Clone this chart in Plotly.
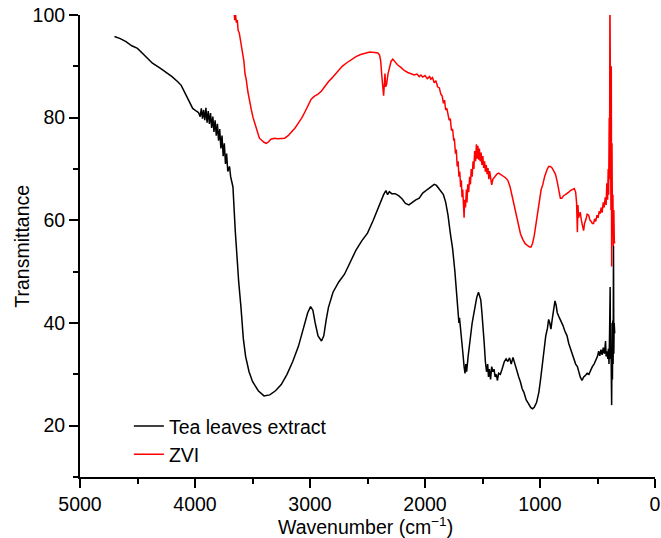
import plotly.graph_objects as go

# Tea leaves extract (black)
tea_x = [4700, 4650, 4600, 4550, 4500, 4470, 4430, 4400, 4370, 4300, 4250, 4200, 4150, 4120, 4080, 4050, 4020, 3990, 3970,
         3955, 3945, 3935, 3925, 3915, 3905, 3895, 3885, 3875, 3865, 3855, 3845, 3835, 3825, 3815, 3805, 3795, 3785, 3775,
         3765, 3755, 3745, 3735, 3725, 3715, 3700, 3690, 3670, 3650, 3640, 3620, 3600, 3580, 3560, 3530, 3500, 3450, 3400,
         3350, 3300, 3250, 3200, 3150, 3100, 3060, 3020, 2995, 2975, 2955, 2930, 2900, 2880, 2860, 2840, 2800, 2750, 2700,
         2650, 2600, 2550, 2500, 2450, 2400, 2360, 2340, 2325, 2310, 2290, 2260, 2230, 2200, 2170, 2140, 2110, 2080, 2050,
         2020, 1980, 1950, 1920, 1900, 1870, 1840, 1820, 1800, 1780, 1760, 1740, 1725, 1715, 1705, 1700, 1690, 1680, 1670,
         1660, 1652, 1645, 1638, 1625, 1610, 1590, 1570, 1550, 1535, 1525, 1515, 1505, 1495, 1485, 1475, 1465, 1455, 1448,
         1440, 1430, 1420, 1410, 1400, 1390, 1380, 1370, 1360, 1345, 1330, 1310, 1295, 1280, 1265, 1250, 1235, 1220, 1200,
         1185, 1170, 1155, 1140, 1120, 1100, 1080, 1065, 1050, 1030, 1010, 995, 980, 965, 950, 935, 925, 915, 905, 895, 885,
         870, 860, 850, 835, 820, 800, 785, 765, 750, 735, 720, 705, 690, 675, 665, 650, 635, 620, 605, 590, 575, 560, 545,
         530, 515, 500, 490, 480, 470, 460, 450, 440, 430, 425, 418, 410, 405, 400, 395, 390, 387, 383, 380, 377, 374, 370,
         367, 364, 361, 358, 355, 350]
tea_y = [95.8, 95.4, 94.8, 94.0, 93.5, 92.8, 92.0, 91.3, 90.6, 89.6, 88.8, 88.0, 87.0, 86.3, 84.5, 83.0, 81.8, 81.3, 81.0,
         80.2, 81.8, 79.8, 81.5, 79.5, 81.9, 79.0, 81.3, 78.8, 80.9, 78.0, 80.2, 77.2, 79.5, 76.5, 78.8, 75.5, 77.8, 74.0,
         76.5, 72.5, 75.0, 71.0, 73.0, 69.5, 70.5, 68.5, 66.5, 58.0, 54.0, 48.0, 43.0, 37.0, 33.5, 30.5, 28.6, 26.8, 25.8,
         26.0, 26.8, 28.0, 30.0, 32.5, 35.5, 38.5, 42.0, 43.2, 42.5, 40.0, 37.5, 36.5, 37.5, 40.5, 43.0, 46.0, 48.0, 49.5,
         52.0, 54.2, 56.0, 57.5, 60.0, 63.0, 65.0, 65.8, 65.0, 65.6, 65.2, 65.2, 64.8, 64.2, 63.3, 63.0, 63.5, 64.0, 64.3,
         65.3, 66.0, 66.5, 67.0, 66.8, 66.0, 65.0, 63.5, 61.0, 57.5, 54.5, 50.0, 46.0, 42.0, 40.0, 41.0, 39.0, 37.0, 34.0,
         31.5, 30.2, 32.0, 30.5, 33.5, 36.5, 40.0, 42.5, 45.0, 46.0, 45.0, 44.5, 42.0, 39.5, 36.0, 32.5, 30.5, 32.0, 29.5,
         31.0, 29.0, 31.5, 30.5, 31.0, 29.5, 30.0, 28.8, 30.2, 30.0, 31.0, 32.5, 33.0, 32.5, 33.2, 32.0, 33.3, 32.0, 30.5,
         29.5, 28.5, 27.2, 26.5, 25.0, 24.3, 23.5, 23.3, 23.6, 24.5, 26.5, 29.0, 32.0, 35.0, 37.5, 39.0, 40.7, 40.0, 38.8,
         40.5, 42.5, 44.3, 43.5, 42.0, 41.2, 40.6, 39.5, 38.5, 37.5, 36.0, 35.0, 33.8, 33.2, 32.0, 31.5, 30.5, 29.5, 28.8,
         29.5, 29.8, 30.2, 30.0, 30.8, 31.5, 32.0, 32.8, 33.5, 34.5, 33.6, 34.8, 33.8, 35.2, 34.0, 36.5, 33.5, 34.5, 33.0,
         35.0, 32.0, 38.0, 47.0, 33.0, 40.0, 30.0, 24.0, 35.0, 29.0, 40.5, 32.0, 55.0, 34.0, 40.0, 38.0]

# ZVI (red)
zvi_x = [3660, 3655, 3648, 3640, 3632, 3625, 3615, 3605, 3596, 3585, 3575, 3565, 3555, 3540, 3525, 3510, 3495, 3480, 3460,
         3440, 3420, 3400, 3380, 3360, 3340, 3310, 3280, 3250, 3220, 3190, 3160, 3130, 3100, 3070, 3040, 3010, 2990, 2960,
         2930, 2900, 2870, 2840, 2810, 2780, 2750, 2720, 2680, 2640, 2600, 2560, 2520, 2480, 2440, 2410, 2395, 2385, 2375,
         2368, 2360, 2352, 2348, 2342, 2334, 2322, 2311, 2295, 2280, 2260, 2240, 2210, 2180, 2150, 2120, 2094, 2070, 2050,
         2036, 2020, 2000, 1980, 1960, 1950, 1935, 1920, 1905, 1890, 1875, 1863, 1850, 1840, 1830, 1820, 1810, 1800, 1790,
         1780, 1770, 1760, 1750, 1745, 1735, 1728, 1720, 1712, 1705, 1698, 1690, 1684, 1678, 1672, 1665, 1660, 1655, 1648,
         1640, 1635, 1628, 1620, 1612, 1605, 1598, 1590, 1582, 1575, 1568, 1560, 1553, 1546, 1540, 1533, 1527, 1520, 1512,
         1505, 1497, 1490, 1482, 1475, 1468, 1460, 1452, 1445, 1438, 1428, 1420, 1410, 1400, 1390, 1375, 1360, 1345, 1330,
         1315, 1300, 1280, 1260, 1240, 1228, 1210, 1190, 1170, 1150, 1130, 1110, 1090, 1078, 1065, 1050, 1035, 1020, 1005,
         990, 975, 960, 940, 925, 910, 895, 880, 866, 850, 835, 823, 810, 795, 780, 765, 750, 735, 720, 702, 690, 682, 675,
         670, 665, 658, 650, 640, 630, 621, 612, 600, 590, 577, 565, 555, 545, 534, 525, 515, 505, 495, 485, 477, 468, 460,
         450, 442, 433, 425, 419, 412, 407, 403, 398, 395, 392, 389, 386, 383, 380, 377, 374, 370, 366, 362, 358, 354, 350]
zvi_y = [100.6, 99.0, 100.2, 98.5, 99.0, 97.0, 96.5, 95.0, 94.6, 92.0, 91.0, 88.5, 87.5, 85.0, 83.0, 81.5, 80.0, 78.9, 77.0,
         76.0, 75.6, 75.2, 75.0, 75.3, 75.8, 76.0, 75.9, 76.0, 76.0, 76.5, 77.2, 78.0, 79.0, 80.0, 81.3, 82.8, 83.6, 84.2,
         84.6, 85.2, 86.2, 87.0, 87.7, 88.5, 89.3, 90.0, 90.7, 91.3, 91.9, 92.3, 92.6, 92.8, 92.7, 92.6, 92.2, 91.0, 88.0,
         85.5, 84.3, 87.0, 88.6, 86.0, 86.5, 88.5, 89.8, 91.0, 91.4, 90.8, 90.3, 89.8, 89.2, 88.8, 88.6, 88.3, 88.5, 88.0,
         88.3, 87.9, 88.2, 87.6, 88.0, 87.5, 87.8, 86.8, 87.2, 86.0, 85.8, 84.6, 84.2, 82.8, 83.4, 81.5, 81.8, 80.2, 79.5,
         79.8, 77.5, 77.8, 75.5, 76.0, 73.0, 73.8, 70.5, 71.5, 68.5, 69.5, 66.5, 67.8, 64.5, 66.0, 63.0, 60.5, 64.0, 62.5,
         66.0, 63.5, 67.0, 65.5, 68.5, 67.0, 70.0, 68.5, 71.5, 70.0, 73.5, 71.5, 74.8, 72.0, 74.5, 71.8, 74.0, 71.5, 73.2,
         70.8, 72.5, 70.2, 71.5, 69.5, 70.8, 69.0, 70.2, 68.0, 69.6, 67.5, 66.9, 68.0, 68.3, 68.6, 69.0, 69.2, 69.0, 68.8,
         68.5, 68.3, 67.8, 66.5, 64.5, 63.3, 61.0, 59.2, 57.4, 56.3, 55.5, 55.1, 54.8, 54.8, 55.5, 57.0, 59.5, 62.0, 64.5,
         66.0, 67.0, 68.5, 69.8, 70.5, 70.5, 70.2, 69.6, 69.0, 67.5, 65.5, 64.3, 64.3, 64.8, 65.0, 65.2, 65.5, 65.8, 66.0,
         66.2, 65.5, 63.5, 57.7, 63.0, 60.5, 61.0, 61.6, 60.0, 59.2, 58.0, 59.5, 60.2, 61.2, 61.0, 60.0, 59.8, 59.4, 59.4,
         60.3, 59.8, 61.0, 60.5, 61.8, 61.3, 62.5, 61.5, 63.5, 62.5, 64.5, 63.0, 67.2, 64.0, 70.0, 65.0, 80.0, 68.0, 105.0,
         70.0, 105.0, 62.0, 90.0, 51.0, 75.0, 58.0, 65.0, 55.0, 62.0, 56.0, 55.5]

series_names = ["Tea leaves extract", "ZVI"]
x_ticks = [5000, 4000, 3000, 2000, 1000, 0]
y_ticks = [20, 40, 60, 80, 100]
x_title = "Wavenumber (cm<sup>\u22121</sup>)"
y_title = "Transmittance"

FONT = "Liberation Sans, Arial, Helvetica, sans-serif"
FS = 19.5

fig = go.Figure()
fig.add_trace(go.Scatter(x=tea_x, y=tea_y, mode="lines", name=series_names[0],
                         line=dict(color="black", width=1.5)))
fig.add_trace(go.Scatter(x=zvi_x, y=zvi_y, mode="lines", name=series_names[1],
                         line=dict(color="#ff0000", width=1.5)))

fig.update_layout(
    width=661, height=538,
    margin=dict(l=80, r=6, t=15, b=61, autoexpand=False),
    paper_bgcolor="white", plot_bgcolor="white",
    font=dict(family=FONT, size=FS, color="black"),
    showlegend=True,
    legend=dict(x=0.085, y=0.152, xanchor="left", yanchor="top",
                bgcolor="rgba(0,0,0,0)", font=dict(size=FS), tracegroupgap=0),
    xaxis=dict(range=[5000, 0], tickvals=x_ticks, ticktext=[str(v) for v in x_ticks],
               automargin=False,
               ticks="outside", ticklen=9, tickwidth=2, tickcolor="black",
               showline=True, linecolor="black", linewidth=2,
               showgrid=False, zeroline=False,
               minor=dict(ticks="outside", dtick=500, tick0=0, ticklen=5, tickwidth=2, tickcolor="black", showgrid=False)),
    yaxis=dict(range=[10, 100], tickvals=y_ticks,
               automargin=False,
               ticks="outside", ticklen=9, tickwidth=2, tickcolor="black",
               showline=True, linecolor="black", linewidth=2,
               showgrid=False, zeroline=False,
               minor=dict(ticks="outside", dtick=10, tick0=0, ticklen=5, tickwidth=2, tickcolor="black", showgrid=False)),
    annotations=[
        dict(text=y_title, textangle=-90, xref="paper", yref="paper",
             x=-0.1014, y=0.5, xanchor="center", yanchor="middle",
             showarrow=False, font=dict(size=FS)),
        dict(text=x_title, xref="paper", yref="paper",
             x=0.4965, y=-0.1062, xanchor="center", yanchor="middle",
             showarrow=False, font=dict(size=FS)),
    ],
)

fig.write_html("out.html")
